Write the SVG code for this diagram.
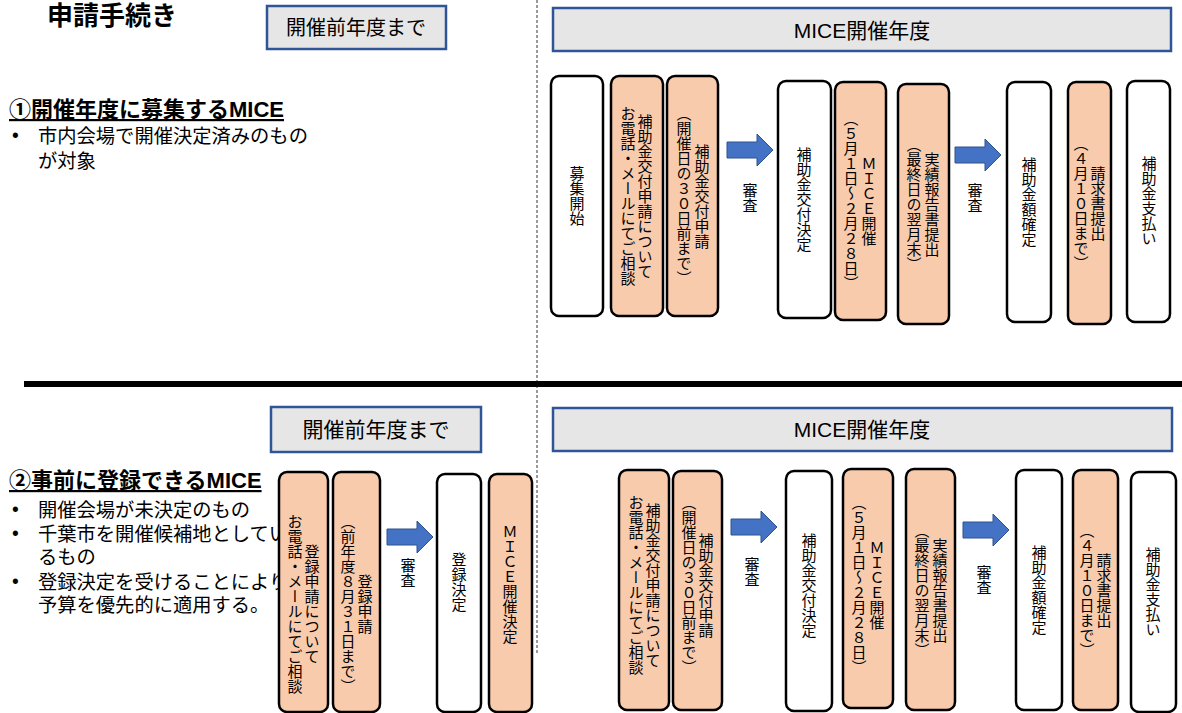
<svg xmlns="http://www.w3.org/2000/svg" width="1182" height="713" viewBox="0 0 1182 713">
<style>
text{font-family:"Liberation Sans","Noto Sans CJK JP",sans-serif;fill:#000}
.hd{font-size:22px;font-weight:bold;text-decoration:underline}
.bl{font-size:19.3px}
.ttl{font-size:26px;font-weight:bold}
.phase rect{fill:#e7e6e6;stroke:#2f5597;stroke-width:2.5}
.phase text{text-anchor:middle}
.w{fill:#fff;stroke:#000;stroke-width:2.5}
.p{fill:#f8cbad;stroke:#000;stroke-width:2.5}
.v{font-size:15px;writing-mode:vertical-rl;text-anchor:middle;font-family:"Noto Sans CJK JP",sans-serif}
.sa{font-size:15px;writing-mode:vertical-rl;text-anchor:middle;font-family:"Noto Sans CJK JP",sans-serif}
.arr{fill:#4472c4;stroke:#2f528f;stroke-width:1}
</style>
<defs>
<path id="ar" d="M0,-8 H30 V-16 L46,0 L30,16 V8 H0 Z"/>
</defs>
<rect width="1182" height="713" fill="#fff"/>

<text class="ttl" x="47" y="25">申請手続き</text>

<line x1="537" y1="0" x2="537" y2="653" stroke="#333" stroke-width="1" stroke-dasharray="3,2"/>
<rect x="24" y="381" width="1158" height="6" fill="#000"/>

<g id="phase-top-before" class="phase"><rect x="267" y="6" width="179" height="43"/><text x="356" y="35" font-size="20">開催前年度まで</text></g>
<g id="phase-top-year" class="phase"><rect x="553" y="8" width="618" height="43"/><text x="862" y="38" font-size="21">MICE開催年度</text></g>
<g id="phase-bot-before" class="phase"><rect x="271" y="407" width="210" height="45"/><text x="376" y="437" font-size="21">開催前年度まで</text></g>
<g id="phase-bot-year" class="phase"><rect x="553" y="408" width="619" height="43"/><text x="862" y="437" font-size="21">MICE開催年度</text></g>

<g id="desc1">
<text class="hd" x="9" y="117">①開催年度に募集するMICE</text>
<text class="bl" x="12" y="142">•</text>
<text class="bl" x="38" y="143">市内会場で開催決定済みのもの</text>
<text class="bl" x="38" y="168">が対象</text>
</g>

<g id="desc2">
<text class="hd" x="9" y="488">②事前に登録できるMICE</text>
<text class="bl" x="12" y="516">•</text>
<text class="bl" x="38" y="517">開催会場が未決定のもの</text>
<text class="bl" x="12" y="540">•</text>
<text class="bl" x="38" y="541">千葉市を開催候補地としてい</text>
<text class="bl" x="38" y="564">るもの</text>
<text class="bl" x="12" y="588">•</text>
<text class="bl" x="38" y="589">登録決定を受けることにより、</text>
<text class="bl" x="38" y="612">予算を優先的に適用する。</text>
</g>

<!-- top row -->
<g id="t1"><rect class="w" x="551" y="76" width="52" height="240" rx="8"/><text class="v" x="577" y="196">募集開始</text></g>
<g id="t2"><rect class="p" x="611" y="76" width="52" height="240" rx="8"/><text class="v" x="645" y="196">補助金交付申請について</text><text class="v" x="628" y="196">お電話・メールにてご相談</text></g>
<g id="t3"><rect class="p" x="667" y="76" width="51" height="240" rx="8"/><text class="v" x="702" y="196">補助金交付申請</text><text class="v" x="684" y="196">（開催日の３０日前まで）</text></g>
<g id="t4"><rect class="w" x="778" y="81" width="53" height="237" rx="8"/><text class="v" x="804" y="199">補助金交付決定</text></g>
<g id="t5"><rect class="p" x="835" y="82" width="51" height="238" rx="8"/><text class="v" x="869" y="201">ＭＩＣＥ開催</text><text class="v" x="851" y="201">（５月１日～２月２８日）</text></g>
<g id="t6"><rect class="p" x="898" y="84" width="51" height="240" rx="8"/><text class="v" x="932" y="204">実績報告書提出</text><text class="v" x="914" y="204">（最終日の翌月末）</text></g>
<g id="t7"><rect class="w" x="1007" y="82" width="44" height="240" rx="8"/><text class="v" x="1029" y="202">補助金額確定</text></g>
<g id="t8"><rect class="p" x="1068" y="82" width="43" height="242" rx="8"/><text class="v" x="1098" y="203">請求書提出</text><text class="v" x="1081" y="203">（４月１０日まで）</text></g>
<g id="t9"><rect class="w" x="1127" y="81" width="43" height="241" rx="8"/><text class="v" x="1149" y="201">補助金支払い</text></g>

<!-- bottom row -->
<g id="b1"><rect class="p" x="279" y="472" width="49" height="240" rx="8"/><text class="v" x="312" y="604">登録申請について</text><text class="v" x="295" y="604">お電話・メールにてご相談</text></g>
<g id="b2"><rect class="p" x="333" y="472" width="47" height="240" rx="8"/><text class="v" x="365" y="604">登録申請</text><text class="v" x="348" y="604">（前年度８月３１日まで）</text></g>
<g id="b3"><rect class="w" x="437" y="474" width="44" height="238" rx="8"/><text class="v" x="459" y="582">登録決定</text></g>
<g id="b4"><rect class="p" x="489" y="474" width="43" height="238" rx="8"/><text class="v" x="510" y="584">ＭＩＣＥ開催決定</text></g>
<g id="b5"><rect class="p" x="619" y="470" width="50" height="240" rx="8"/><text class="v" x="653" y="585">補助金交付申請について</text><text class="v" x="636" y="585">お電話・メールにてご相談</text></g>
<g id="b6"><rect class="p" x="673" y="471" width="49" height="239" rx="8"/><text class="v" x="706" y="585">補助金交付申請</text><text class="v" x="689" y="585">（開催日の３０日前まで）</text></g>
<g id="b7"><rect class="w" x="786" y="471" width="46" height="240" rx="8"/><text class="v" x="809" y="585">補助金交付決定</text></g>
<g id="b8"><rect class="p" x="843" y="469" width="50" height="239" rx="8"/><text class="v" x="877" y="585">ＭＩＣＥ開催</text><text class="v" x="859" y="585">（５月１日～２月２８日）</text></g>
<g id="b9"><rect class="p" x="906" y="469" width="49" height="241" rx="8"/><text class="v" x="940" y="590">実績報告書提出</text><text class="v" x="922" y="590">（最終日の翌月末）</text></g>
<g id="b10"><rect class="w" x="1016" y="470" width="46" height="240" rx="8"/><text class="v" x="1039" y="590">補助金額確定</text></g>
<g id="b11"><rect class="p" x="1073" y="470" width="45" height="240" rx="8"/><text class="v" x="1104" y="590">請求書提出</text><text class="v" x="1087" y="590">（４月１０日まで）</text></g>
<g id="b12"><rect class="w" x="1131" y="472" width="45" height="240" rx="8"/><text class="v" x="1153" y="592">補助金支払い</text></g>

<g id="connectors">
<use href="#ar" class="arr" transform="translate(727,150)"/>
<text class="sa" x="750" y="198">審査</text>
<use href="#ar" class="arr" transform="translate(955,155)"/>
<text class="sa" x="975" y="198">審査</text>
<use href="#ar" class="arr" transform="translate(387,537)"/>
<text class="sa" x="408" y="573">審査</text>
<use href="#ar" class="arr" transform="translate(731,527)"/>
<text class="sa" x="752" y="572">審査</text>
<use href="#ar" class="arr" transform="translate(963,530)"/>
<text class="sa" x="984" y="580">審査</text>
</g>
</svg>
